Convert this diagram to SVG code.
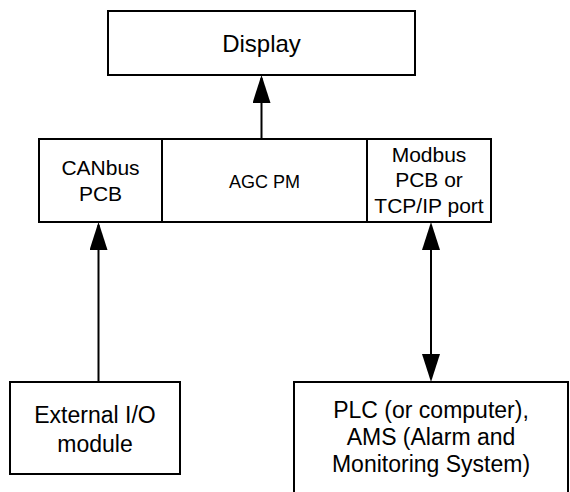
<svg xmlns="http://www.w3.org/2000/svg" width="570" height="492" viewBox="0 0 570 492">
<style>
.box{fill:#fff;stroke:#000;stroke-width:2}
.t{font-family:"Liberation Sans",Arial,sans-serif;font-size:21px;fill:#000;text-anchor:middle}
.big{font-size:23px}
.c{fill:none;stroke:#000;stroke-width:2}
</style>
<defs>
<marker id="ah" viewBox="0 0 28 18" refX="25" refY="9" markerWidth="28" markerHeight="18" markerUnits="userSpaceOnUse" orient="auto-start-reverse">
<path d="M0,0 L28,9 L0,18 Z" fill="#000"/>
</marker>
</defs>
<rect width="570" height="492" fill="#fff"/>
<g id="display">
<rect class="box" x="108" y="11" width="307" height="64"/>
<text class="t" x="261.5" y="52" style="font-size:24px">Display</text>
</g>
<g id="canbus">
<rect class="box" x="39" y="139" width="123" height="83"/>
<text class="t" x="100.5" y="175">CANbus</text>
<text class="t" x="100.5" y="200.5">PCB</text>
</g>
<g id="agcpm">
<rect class="box" x="162" y="139" width="205" height="83"/>
<text class="t" x="264.5" y="188" style="font-size:18px">AGC PM</text>
</g>
<g id="modbus">
<rect class="box" x="367" y="139" width="124" height="83"/>
<text class="t" x="429" y="161.5">Modbus</text>
<text class="t" x="429" y="187">PCB or</text>
<text class="t" x="429" y="212.5">TCP/IP port</text>
</g>
<g id="extio">
<rect class="box" x="10" y="382" width="170" height="92"/>
<text class="t big" x="95" y="423">External I/O</text>
<text class="t big" x="95" y="451.5">module</text>
</g>
<g id="plc">
<path class="box" d="M294,493 L294,382 L568,382 L568,493"/>
<text class="t big" x="431" y="418">PLC (or computer),</text>
<text class="t big" x="431" y="445">AMS (Alarm and</text>
<text class="t big" x="431" y="472">Monitoring System)</text>
</g>
<g id="connectors">
<line class="c" x1="261.5" y1="139" x2="261.5" y2="78" marker-end="url(#ah)"/>
<line class="c" x1="98.5" y1="382" x2="98.5" y2="225" marker-end="url(#ah)"/>
<line class="c" x1="431" y1="225" x2="431" y2="379" marker-start="url(#ah)" marker-end="url(#ah)"/>
</g>
</svg>
